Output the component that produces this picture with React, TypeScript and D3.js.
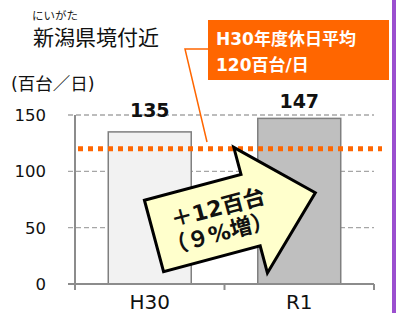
import React, { useEffect, useRef } from 'react';
import * as d3 from 'd3';

const categories = ['H30', 'R1'];
const values = [135, 147];
const yTicks = [0, 50, 100, 150];
const averageValue = 120;
const averageLabel = ['H30年度休日平均', '120百台/日'];
const title = '新潟県境付近';
const titleRuby = 'にいがた';
const unitLabel = '(百台／日)';
const changeLabel = ['＋12百台', '（９%増）'];

const FONT = "'DejaVu Sans', 'Noto Sans CJK JP', sans-serif";

function App() {
    const svgRef = useRef<SVGSVGElement>(null);

    useEffect(() => {
        const svg = d3.select(svgRef.current);
        svg.selectAll('*').remove();

        const width = 396;
        const height = 313;
        const margin = { top: 115, right: 22, bottom: 29, left: 75 };

        const x = d3.scaleBand()
            .domain(categories)
            .range([margin.left, width - margin.right])
            .paddingInner(0.445)
            .paddingOuter(0.2225);
        const y = d3.scaleLinear().domain([0, 150]).range([height - margin.bottom, margin.top]);

        // purple frame line on the right
        svg.append('rect')
            .attr('x', 392).attr('y', 0)
            .attr('width', 4).attr('height', height)
            .attr('fill', '#9b4fcf');

        // title
        svg.append('text')
            .attr('x', 32).attr('y', 20)
            .attr('font-family', FONT).attr('font-size', 11.5)
            .attr('fill', '#222')
            .text(titleRuby);
        svg.append('text')
            .attr('x', 33).attr('y', 45)
            .attr('font-family', FONT).attr('font-size', 21)
            .attr('fill', '#111')
            .text(title);
        svg.append('text')
            .attr('x', 11).attr('y', 90)
            .attr('font-family', FONT).attr('font-size', 17.5)
            .attr('fill', '#111')
            .text(unitLabel);

        // gridlines
        svg.append('g')
            .selectAll('line')
            .data(yTicks.filter(d => d > 0))
            .enter()
            .append('line')
            .attr('x1', margin.left - 7)
            .attr('x2', width - margin.right)
            .attr('y1', d => y(d))
            .attr('y2', d => y(d))
            .attr('stroke', '#a6a6a6')
            .attr('stroke-width', 1.3)
            .attr('stroke-dasharray', '5 3');

        // y tick labels
        svg.append('g')
            .selectAll('text')
            .data(yTicks)
            .enter()
            .append('text')
            .attr('x', 46)
            .attr('y', d => y(d) + 6)
            .attr('text-anchor', 'end')
            .attr('font-family', FONT).attr('font-size', 16.5)
            .attr('fill', '#111')
            .text(d => d);

        // bars
        svg.append('g')
            .selectAll('rect')
            .data(values)
            .enter()
            .append('rect')
            .attr('x', (d, i) => x(categories[i])!)
            .attr('y', d => y(d))
            .attr('width', x.bandwidth())
            .attr('height', d => y(0) - y(d))
            .attr('fill', (d, i) => (i === 0 ? '#f2f2f2' : '#bfbfbf'))
            .attr('stroke', '#7f7f7f')
            .attr('stroke-width', 1.5);

        // value labels
        svg.append('g')
            .selectAll('text')
            .data(values)
            .enter()
            .append('text')
            .attr('x', (d, i) => x(categories[i])! + x.bandwidth() / 2)
            .attr('y', (d, i) => y(d) - (i === 0 ? 15 : 10))
            .attr('text-anchor', 'middle')
            .attr('font-family', FONT).attr('font-size', 19).attr('font-weight', 'bold')
            .attr('fill', '#111')
            .text(d => d);

        // axes
        const y0 = y(0);
        const x0 = margin.left;
        const x1 = width - margin.right;
        const axisColor = '#8c8c8c';
        svg.append('line')
            .attr('x1', x0).attr('x2', x0)
            .attr('y1', y(150)).attr('y2', y0 + 6)
            .attr('stroke', axisColor).attr('stroke-width', 2);
        svg.append('line')
            .attr('x1', x0 - 7).attr('x2', x1)
            .attr('y1', y0).attr('y2', y0)
            .attr('stroke', axisColor).attr('stroke-width', 2);
        const step = x.step();
        const catTicks = [x0, x0 + step, x1];
        svg.append('g')
            .selectAll('line')
            .data(catTicks)
            .enter()
            .append('line')
            .attr('x1', d => d).attr('x2', d => d)
            .attr('y1', y0).attr('y2', y0 + 6)
            .attr('stroke', axisColor).attr('stroke-width', 2);

        svg.append('g')
            .selectAll('text')
            .data(categories)
            .enter()
            .append('text')
            .attr('x', d => x(d)! + x.bandwidth() / 2)
            .attr('y', y0 + 25)
            .attr('text-anchor', 'middle')
            .attr('font-family', FONT).attr('font-size', 20)
            .attr('fill', '#111')
            .text(d => d);

        // average line
        svg.append('line')
            .attr('x1', 78).attr('x2', 382)
            .attr('y1', y(averageValue)).attr('y2', y(averageValue))
            .attr('stroke', '#ff6600')
            .attr('stroke-width', 5)
            .attr('stroke-dasharray', '5 5');

        // average callout
        svg.append('polyline')
            .attr('points', `208,49 185,49 207,142`)
            .attr('fill', 'none')
            .attr('stroke', '#ff6600')
            .attr('stroke-width', 1.5);
        svg.append('rect')
            .attr('x', 208).attr('y', 20)
            .attr('width', 181).attr('height', 60)
            .attr('fill', '#ff6600');
        svg.append('g')
            .selectAll('text')
            .data(averageLabel)
            .enter()
            .append('text')
            .attr('x', 216)
            .attr('y', (d, i) => 45 + i * 26)
            .attr('font-family', FONT).attr('font-size', 17).attr('font-weight', 'bold')
            .attr('fill', '#fff')
            .text(d => d);

        // change arrow
        const arrow = svg.append('g')
            .attr('transform', 'translate(154,236) rotate(-15)');
        arrow.append('path')
            .attr('d', 'M0,-37 L100,-37 L100,-65 L167,0 L100,65 L100,37 L0,37 Z')
            .attr('fill', '#ffffcc')
            .attr('stroke', '#000')
            .attr('stroke-width', 3)
            .attr('stroke-linejoin', 'miter');
        arrow.selectAll('text')
            .data(changeLabel)
            .enter()
            .append('text')
            .attr('x', (d, i) => (i === 0 ? 69 : 64))
            .attr('y', (d, i) => (i === 0 ? -3 : 22))
            .attr('text-anchor', 'middle')
            .attr('font-family', FONT).attr('font-size', 22).attr('font-weight', 'bold')
            .attr('fill', '#111')
            .text(d => d);
    }, []);

    return (
        <svg
            ref={svgRef}
            width={396}
            height={313}
            style={{ position: 'absolute', left: 0, top: 0, background: '#fff' }}
        ></svg>
    );
}

export default App;
